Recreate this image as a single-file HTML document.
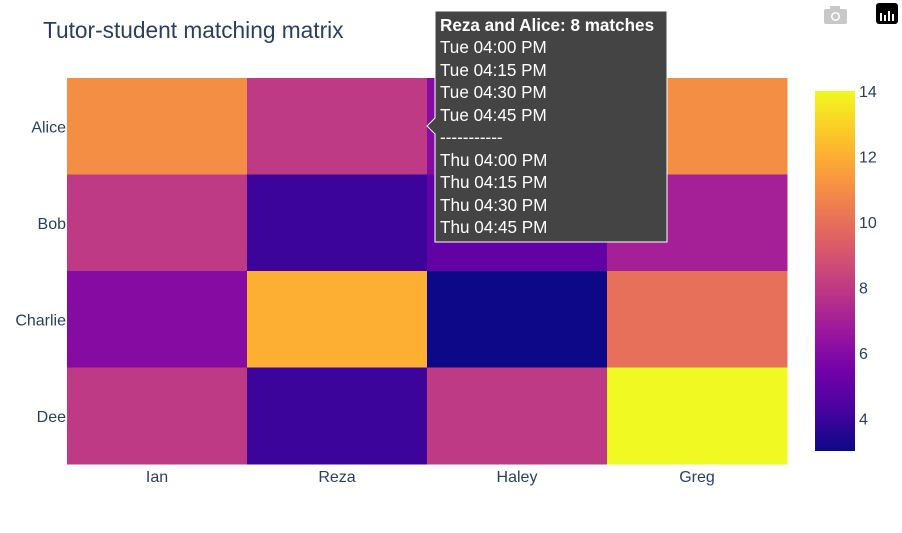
<!DOCTYPE html>
<html><head><meta charset="utf-8"><style>
body{margin:0;background:#fff;font-family:"Liberation Sans",sans-serif;}
svg text{font-family:"Liberation Sans",sans-serif;}
</style></head><body>
<svg id="chart" width="902" height="528" xmlns="http://www.w3.org/2000/svg">
<defs><linearGradient id="cbg" x1="0" y1="1" x2="0" y2="0"></linearGradient></defs>
<text x="43" y="38" font-size="22.7" fill="#2a3f5f">Tutor-student matching matrix</text>
<g id="cells"></g><g id="xt"></g><g id="yt"></g><g id="cb"></g>
<g><rect x="824" y="9" width="23" height="15" rx="2" fill="#c8c8c8"/><rect x="830" y="6" width="10" height="4" fill="#c8c8c8"/><circle cx="835.5" cy="16.5" r="4.5" fill="#fff"/><circle cx="835.5" cy="16.5" r="3" fill="#c8c8c8"/></g>
<g><rect x="876" y="3" width="22" height="21" rx="3" fill="#000"/><rect x="880" y="13" width="2" height="8" fill="#fff"/><rect x="884" y="15" width="2" height="6" fill="#fff"/><rect x="888" y="11" width="2" height="10" fill="#fff"/><rect x="892" y="14" width="2" height="7" fill="#fff"/></g>
<g>
<path d="M435,11 H667 V242 H435 V134 L427,126 L435,118 Z" fill="#444" stroke="#fff" stroke-width="1"/>
<text x="440" y="31" font-size="17.1" font-weight="bold" fill="#fff">Reza and Alice: 8 matches</text>
<g font-size="17.1" fill="#fff">
<text x="440" y="53">Tue 04:00 PM</text><text x="440" y="76">Tue 04:15 PM</text><text x="440" y="98">Tue 04:30 PM</text><text x="440" y="121">Tue 04:45 PM</text>
<text x="440" y="143">-----------</text>
<text x="440" y="166">Thu 04:00 PM</text><text x="440" y="188">Thu 04:15 PM</text><text x="440" y="211">Thu 04:30 PM</text><text x="440" y="233">Thu 04:45 PM</text></g>
</g>
</svg>
<script>
const tutors=["Ian","Reza","Haley","Greg"];
const students=["Alice","Bob","Charlie","Dee"];
const values=[[11,8,6,11],[8,4,5,7],[6,12,3,10],[8,4,8,14]];
const cbTicks=[4,6,8,10,12,14];
const zmin=3,zmax=14;
const stops=["#0d0887","#46039f","#7201a8","#9c179e","#bd3786","#d8576b","#ed7953","#fb9f3a","#fdca26","#f0f921"];
const NS="http://www.w3.org/2000/svg";
const px0=67,px1=787,py0=78,py1=464;
const cw=(px1-px0)/tutors.length,ch=(py1-py0)/students.length;
function hex(h){return [1,3,5].map(i=>parseInt(h.substr(i,2),16));}
function color(v){let t=(v-zmin)/(zmax-zmin);t=Math.max(0,Math.min(1,t));const s=t*(stops.length-1);const i=Math.min(Math.floor(s),stops.length-2);const f=s-i;const a=hex(stops[i]),b=hex(stops[i+1]);return "rgb("+a.map((c,k)=>Math.round(c+(b[k]-c)*f)).join(",")+")";}
function mk(tag,at,parent){const e=document.createElementNS(NS,tag);for(const k in at)e.setAttribute(k,at[k]);parent.appendChild(e);return e;}
const cells=document.getElementById('cells');
values.forEach((row,r)=>row.forEach((v,c)=>{const e=mk('rect',{x:px0+c*cw,y:py0+r*ch,width:cw+0.5,height:ch+0.5,fill:color(v)},cells);

}));
const xt=document.getElementById('xt');
tutors.forEach((t,i)=>{const e=mk('text',{x:px0+(i+0.5)*cw,y:482,'text-anchor':'middle','font-size':16,fill:'#2a3f5f'},xt);e.textContent=t;

});
const yt=document.getElementById('yt');
students.forEach((s,i)=>{const e=mk('text',{x:66,y:py0+(i+0.5)*ch+6,'text-anchor':'end','font-size':16,fill:'#2a3f5f'},yt);e.textContent=s;

});
const g=document.getElementById('cbg');
stops.forEach((s,i)=>mk('stop',{offset:(i/(stops.length-1)),'stop-color':s},g));
const cb=document.getElementById('cb');
const cy0=91,cy1=451;
const bar=mk('rect',{x:815,y:cy0,width:40,height:cy1-cy0,fill:'url(#cbg)'},cb);


const cbY=v=>cy1-(v-zmin)/(zmax-zmin)*(cy1-cy0);
cbTicks.forEach(v=>{const e=mk('text',{x:859,y:cbY(v)+6,'font-size':16,fill:'#2a3f5f'},cb);e.textContent=v;

});
</script>
</body></html>
